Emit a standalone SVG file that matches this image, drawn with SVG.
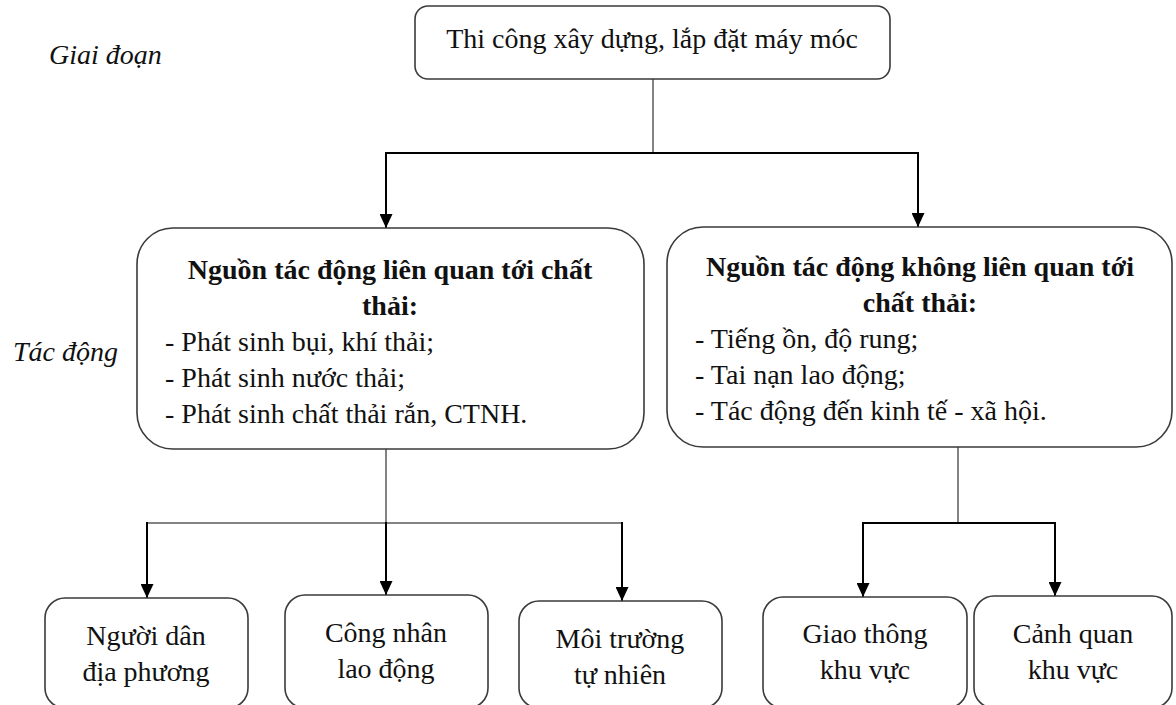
<svg xmlns="http://www.w3.org/2000/svg" width="1176" height="705" viewBox="0 0 1176 705">
  <defs>
    <marker id="arrow" markerUnits="userSpaceOnUse" markerWidth="14" markerHeight="13" viewBox="0 0 14 13" refX="14" refY="6.5" orient="auto">
      <path d="M0,0 L14,6.5 L0,13 z" fill="#000"/>
    </marker>
    <style>
      .box { fill: #fff; stroke: #3a3a3a; stroke-width: 1.6; }
      .txt { font-family: "Liberation Serif", "Times New Roman", serif; font-size: 28px; fill: #111; }
      .mid { text-anchor: middle; }
      .bold { font-weight: bold; }
      .ital { font-style: italic; }
      .stem { fill: none; stroke: #5a5a5a; stroke-width: 1.5; }
      .link { fill: none; stroke: #000; stroke-width: 2; }
      .arr { fill: none; stroke: #000; stroke-width: 2; marker-end: url(#arrow); }
    </style>
  </defs>
  <rect width="1176" height="705" fill="#fff"/>

  <!-- row labels -->
  <g id="label-stage">
    <text class="txt ital" x="49" y="64">Giai đoạn</text>
  </g>
  <g id="label-impact">
    <text class="txt ital" x="13" y="361">Tác động</text>
  </g>

  <!-- connectors -->
  <g id="connectors">
    <line class="stem" x1="653" y1="79" x2="653" y2="153"/>
    <line class="link" x1="386" y1="153" x2="918" y2="153"/>
    <line class="arr" x1="386" y1="152" x2="386" y2="228"/>
    <line class="arr" x1="918" y1="152" x2="918" y2="227"/>

    <line class="stem" x1="386" y1="449" x2="386" y2="523"/>
    <line class="stem" x1="147" y1="523" x2="622" y2="523"/>
    <line class="arr" x1="147" y1="522" x2="147" y2="598"/>
    <line class="arr" x1="386" y1="522" x2="386" y2="595"/>
    <line class="arr" x1="622" y1="522" x2="622" y2="601"/>

    <line class="stem" x1="958" y1="447" x2="958" y2="523"/>
    <line class="link" x1="863" y1="523" x2="1055" y2="523"/>
    <line class="arr" x1="863" y1="522" x2="863" y2="597"/>
    <line class="arr" x1="1055" y1="522" x2="1055" y2="596"/>
  </g>

  <g id="stage">
    <rect class="box" x="415" y="6" width="475" height="73" rx="13"/>
    <text class="txt mid" x="652" y="48">Thi công xây dựng, lắp đặt máy móc</text>
  </g>

  <g id="waste-sources">
    <rect class="box" x="137" y="228" width="507" height="221" rx="36"/>
    <text class="txt bold mid" x="390" y="279">Nguồn tác động liên quan tới chất</text>
    <text class="txt bold mid" x="390" y="315">thải:</text>
    <text class="txt" x="165" y="351">- Phát sinh bụi, khí thải;</text>
    <text class="txt" x="165" y="387">- Phát sinh nước thải;</text>
    <text class="txt" x="165" y="423">- Phát sinh chất thải rắn, CTNH.</text>
  </g>

  <g id="non-waste-sources">
    <rect class="box" x="667" y="227" width="505" height="220" rx="36"/>
    <text class="txt bold mid" x="920" y="276">Nguồn tác động không liên quan tới</text>
    <text class="txt bold mid" x="920" y="312">chất thải:</text>
    <text class="txt" x="695" y="348">- Tiếng ồn, độ rung;</text>
    <text class="txt" x="695" y="384">- Tai nạn lao động;</text>
    <text class="txt" x="695" y="420">- Tác động đến kinh tế - xã hội.</text>
  </g>

  <g id="residents">
    <rect class="box" x="45" y="598" width="203" height="110" rx="20"/>
    <text class="txt mid" x="146" y="645">Người dân</text>
    <text class="txt mid" x="146" y="681">địa phương</text>
  </g>

  <g id="workers">
    <rect class="box" x="285" y="595" width="203" height="113" rx="20"/>
    <text class="txt mid" x="386" y="642">Công nhân</text>
    <text class="txt mid" x="386" y="678">lao động</text>
  </g>

  <g id="environment">
    <rect class="box" x="519" y="601" width="203" height="107" rx="20"/>
    <text class="txt mid" x="620" y="648">Môi trường</text>
    <text class="txt mid" x="620" y="684">tự nhiên</text>
  </g>

  <g id="traffic">
    <rect class="box" x="763" y="597" width="204" height="111" rx="20"/>
    <text class="txt mid" x="865" y="643">Giao thông</text>
    <text class="txt mid" x="865" y="679">khu vực</text>
  </g>

  <g id="landscape">
    <rect class="box" x="974" y="596" width="198" height="112" rx="20"/>
    <text class="txt mid" x="1073" y="643">Cảnh quan</text>
    <text class="txt mid" x="1073" y="679">khu vực</text>
  </g>
</svg>
